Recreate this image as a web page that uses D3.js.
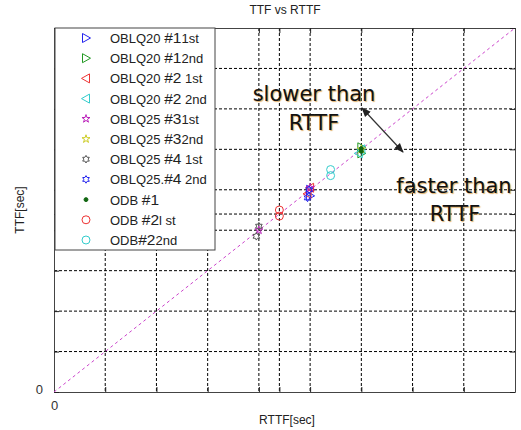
<!DOCTYPE html>
<html>
<head>
<meta charset="utf-8">
<script src="https://cdn.jsdelivr.net/npm/d3@7"></script>
<style>
  body { margin: 0; background: #fff; }
  svg { font-family: "Liberation Sans", Arial, sans-serif; }
</style>
</head>
<body>
<svg id="chart"></svg>
<script>
// valeurs
const tickVals = [0, 1, 2, 3, 4, 4.4, 5, 6, 7, 8, 9];
const seriesNames = [
  ["OBLQ20 ", "#1", "1st"],
  ["OBLQ20 ", "#1", "2nd"],
  ["OBLQ20 ", "#2", " 1st"],
  ["OBLQ20 ", "#2", " 2nd"],
  ["OBLQ25 ", "#3", "1st"],
  ["OBLQ25 ", "#3", "2nd"],
  ["OBLQ25 ", "#4", " 1st"],
  ["OBLQ25.", "#4", " 2nd"],
  ["ODB ", "#1", ""],
  ["ODB ", "#2", "l st"],
  ["ODB", "#2", "2nd"]
];
const seriesColors = ["#2222ee", "#229922", "#ee3333", "#33cccc", "#bb22bb", "#cccc22",
  "#555555", "#2222ee", "#116611", "#ee3333", "#33cccc"];
const seriesShapes = ["triR", "triR", "triL", "triL", "star", "star", "hex", "hex", "dot", "circle", "circle"];
const rttfVals = [
  [5.0, 5.0],
  [6.0, 6.0],
  [5.0, 4.95],
  [6.0, 5.95],
  [5.0, 4.0],
  [6.0],
  [4.0, 3.95],
  [4.98, 4.95],
  [6.0, 6.0],
  [4.4, 4.4],
  [5.4, 5.4]
];
const ttfVals = [
  [5.0, 4.85],
  [6.05, 5.9],
  [5.05, 4.9],
  [6.0, 5.9],
  [5.05, 4.0],
  [6.0],
  [4.1, 3.85],
  [5.0, 4.8],
  [6.02, 5.95],
  [4.5, 4.35],
  [5.5, 5.35]
];

const W = 521, H = 430;
const margin = { top: 28, right: 6, bottom: 38, left: 54 };
const width = W - margin.left - margin.right,
  height = H - margin.top - margin.bottom;

const svg = d3.select("#chart").attr("width", W).attr("height", H);
const g = svg.append("g").attr("transform", "translate(" + margin.left + "," + margin.top + ")");

const x = d3.scaleLinear().domain([0, 9]).range([0, width]);
const y = d3.scaleLinear().domain([0, 9]).range([height, 0]);

// grille pointillée
const inner = tickVals.filter((d) => d > 0 && d < 9);
g.append("g")
  .selectAll("line.v")
  .data(inner)
  .join("line")
  .attr("x1", (d) => x(d)).attr("x2", (d) => x(d))
  .attr("y1", 0).attr("y2", height)
  .attr("stroke", "#000").attr("stroke-width", 1)
  .attr("stroke-dasharray", "3,2");
g.append("g")
  .selectAll("line.h")
  .data(inner)
  .join("line")
  .attr("y1", (d) => y(d)).attr("y2", (d) => y(d))
  .attr("x1", 0).attr("x2", width)
  .attr("stroke", "#000").attr("stroke-width", 1)
  .attr("stroke-dasharray", "3,2");

// axes : petits traits vers l'intérieur
const fmt0 = (d) => (d === 0 ? "0" : "");
const axB = g.append("g").attr("transform", "translate(0," + height + ")")
  .call(d3.axisBottom(x).tickValues(tickVals).tickSizeInner(-5).tickSizeOuter(0).tickPadding(9).tickFormat(fmt0));
const axT = g.append("g")
  .call(d3.axisTop(x).tickValues(tickVals).tickSizeInner(-5).tickSizeOuter(0).tickFormat(""));
const axL = g.append("g")
  .call(d3.axisLeft(y).tickValues(tickVals).tickSizeInner(-5).tickSizeOuter(0).tickPadding(11).tickFormat(fmt0));
const axR = g.append("g").attr("transform", "translate(" + width + ",0)")
  .call(d3.axisRight(y).tickValues(tickVals).tickSizeInner(-5).tickSizeOuter(0).tickFormat(""));
[axB, axT, axL, axR].forEach((a) => {
  a.select(".domain").attr("stroke", "#444");
  a.selectAll(".tick line").attr("stroke", "#222");
  a.selectAll("text").attr("font-size", 13).attr("fill", "#333");
});
axL.selectAll("text").attr("dy", "0.1em");

// diagonale y = x
g.append("path")
  .datum([0, 9])
  .attr("d", d3.line().x((d) => x(d)).y((d) => y(d)))
  .attr("stroke", "#cc44cc").attr("stroke-width", 1)
  .attr("stroke-dasharray", "3,3").attr("fill", "none");

// symboles
function hexagram(r) {
  const p = [];
  for (let i = 0; i < 12; i++) {
    const a = (Math.PI / 6) * i - Math.PI / 2;
    const rr = i % 2 === 0 ? r : r * 0.58;
    p.push([rr * Math.cos(a), rr * Math.sin(a)]);
  }
  return "M" + p.join("L") + "Z";
}
function shapePath(s) {
  if (s === "triR") return "M-3.5,-4.5L4.5,0L-3.5,4.5Z";
  if (s === "triL") return "M3.5,-4.5L-4.5,0L3.5,4.5Z";
  if (s === "star") return d3.symbol(d3.symbolStar, 20)();
  if (s === "hex") return hexagram(3.8);
  if (s === "dot") return d3.symbol(d3.symbolCircle, 12)();
  return d3.symbol(d3.symbolCircle, 50)();
}
function drawMarker(sel, i) {
  const s = seriesShapes[i];
  sel.append("path")
    .attr("d", shapePath(s))
    .attr("fill", s === "dot" ? seriesColors[i] : "none")
    .attr("stroke", seriesColors[i])
    .attr("stroke-width", 1);
}

const pts = g.append("g");
seriesNames.forEach((n, i) => {
  rttfVals[i].forEach((v, j) => {
    const m = pts.append("g").attr("transform", "translate(" + x(v) + "," + y(ttfVals[i][j]) + ")");
    drawMarker(m, i);
  });
});

// légende
const leg = g.append("g").attr("transform", "translate(1,0)");
leg.append("rect").attr("x", 0).attr("y", 0).attr("width", 160).attr("height", 222)
  .attr("fill", "#fff").attr("stroke", "#444");
seriesNames.forEach((n, i) => {
  const row = leg.append("g").attr("transform", "translate(0," + (10 + i * 20.2) + ")");
  drawMarker(row.append("g").attr("transform", "translate(31,0)"), i);
  const t = row.append("text").attr("x", 55).attr("y", 5).attr("font-size", 13).attr("fill", "#222");
  t.append("tspan").text(n[0]);
  t.append("tspan").attr("font-size", 15.5).text(n[1]);
  t.append("tspan").text(n[2]);
});

// titres
svg.append("text").attr("x", 285).attr("y", 14).attr("text-anchor", "middle")
  .attr("font-size", 12).attr("fill", "#222").text("TTF vs RTTF");
svg.append("text").attr("x", 287).attr("y", 424).attr("text-anchor", "middle")
  .attr("font-size", 12).attr("fill", "#222").text("RTTF[sec]");
svg.append("text").attr("transform", "translate(24,210) rotate(-90)").attr("text-anchor", "middle")
  .attr("font-size", 12).attr("fill", "#222").text("TTF[sec]");

// annotations
const ann = svg.append("g").attr("font-family", "'DejaVu Sans', Verdana, sans-serif")
  .attr("font-size", 21).attr("fill", "#111").attr("text-anchor", "middle")
  .style("text-shadow", "1px 1px 1px rgba(210,140,40,0.7)");
ann.append("text").attr("x", 314).attr("y", 101).text("slower than");
ann.append("text").attr("x", 314).attr("y", 130).text("RTTF");
ann.append("text").attr("x", 454).attr("y", 193).text("faster than");
ann.append("text").attr("x", 455).attr("y", 221).text("RTTF");

const defs = svg.append("defs");
defs.append("marker").attr("id", "ah").attr("viewBox", "0 0 10 10")
  .attr("refX", 9).attr("refY", 5).attr("markerWidth", 8).attr("markerHeight", 8)
  .attr("orient", "auto-start-reverse")
  .append("path").attr("d", "M0,1L10,5L0,9Z").attr("fill", "#222");
svg.append("line")
  .attr("x1", 362).attr("y1", 108).attr("x2", 403).attr("y2", 152)
  .attr("stroke", "#333").attr("stroke-width", 1.2)
  .attr("marker-start", "url(#ah)").attr("marker-end", "url(#ah)");
</script>
</body>
</html>
